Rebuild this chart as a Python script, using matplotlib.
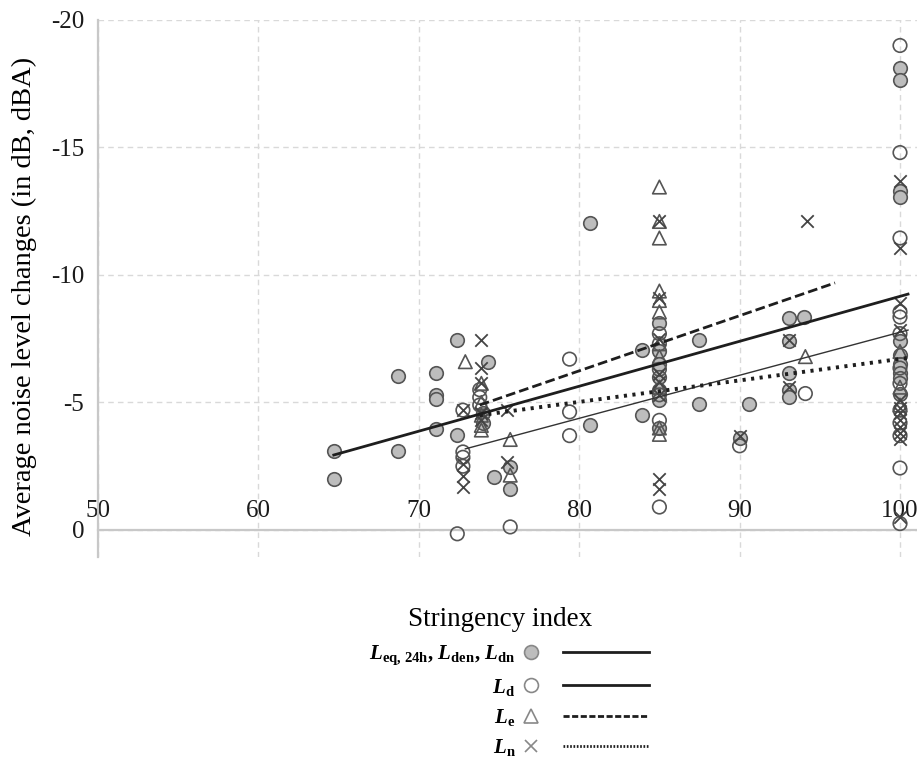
import matplotlib
matplotlib.use('Agg')
import matplotlib.pyplot as plt
from matplotlib.lines import Line2D
from matplotlib.legend_handler import HandlerBase

plt.rcParams['font.family'] = ['Liberation Serif', 'DejaVu Serif']
plt.rcParams['axes.unicode_minus'] = False
plt.rcParams['mathtext.fontset'] = 'custom'
plt.rcParams['mathtext.rm'] = 'Liberation Serif'
plt.rcParams['mathtext.it'] = 'Liberation Serif:italic'
plt.rcParams['mathtext.bf'] = 'Liberation Serif:bold'
plt.rcParams['mathtext.bfit'] = 'Liberation Serif:italic:bold'

# Leq,24h / Lden / Ldn (filled circles)
eq_x = [64.7, 64.7, 68.7, 68.7, 71.1, 71.1, 71.1, 71.1, 72.4, 72.4, 74.0, 74.0, 74.3, 74.7,
        75.7, 75.7, 80.7, 80.7, 83.9, 83.9, 85, 85, 85, 85, 85, 85, 85, 87.5, 87.5, 90.0, 90.6,
        93.1, 93.1, 93.1, 93.1, 93.1, 94.0, 100, 100, 100, 100, 100, 100, 100, 100, 100, 100]
eq_y = [-3.1, -2.0, -6.05, -3.1, -6.15, -5.3, -5.15, -3.96, -7.45, -3.73, -4.6, -4.2, -6.6, -2.08,
        -2.45, -1.6, -12.05, -4.1, -7.05, -4.5, -8.1, -7.0, -6.5, -6.0, -5.5, -5.1, -4.0, -7.45, -4.95,
        -3.6, -4.95, -8.3, -7.4, -6.15, -5.5, -5.2, -8.35, -18.1, -17.65, -13.3, -13.05, -7.4, -6.85,
        -6.5, -6.15, -5.95, -5.35]

# Ld (open circles)
d_x = [72.4, 72.75, 72.75, 72.75, 72.75, 73.8, 73.8, 73.8, 75.7, 79.4, 79.4, 79.4,
       85, 85, 85, 85, 85, 85, 90.0, 94.1,
       100, 100, 100, 100, 100, 100, 100, 100, 100, 100, 100, 100, 100]
d_y = [0.15, -4.7, -3.06, -2.85, -2.5, -5.5, -5.2, -4.9, -0.12, -6.7, -4.63, -3.7,
       -7.7, -7.3, -6.3, -5.3, -4.3, -0.9, -3.3, -5.35,
       -19.0, -14.8, -11.45, -8.55, -8.35, -7.7, -6.35, -5.75, -4.7, -4.2, -3.7, -2.43, -0.25]

# Le (triangles)
e_x = [72.9, 73.9, 73.9, 73.9, 73.9, 73.9, 75.7, 75.7,
       85, 85, 85, 85, 85, 85, 85, 85, 85, 85, 85, 94.1, 100, 100, 100]
e_y = [-6.6, -5.75, -5.0, -4.5, -4.1, -3.92, -3.55, -2.15,
       -13.45, -12.1, -11.45, -9.37, -9.0, -8.55, -7.3, -6.8, -5.6, -4.0, -3.75, -6.8, -7.0, -5.6, -4.9]

# Ln (crosses)
n_x = [72.75, 72.75, 72.75, 72.75, 73.9, 73.9, 73.9, 73.9, 73.9, 75.5, 75.5,
       85, 85, 85, 85, 85, 85, 85, 85, 90.0, 93.1, 93.1, 94.2,
       100, 100, 100, 100, 100, 100, 100, 100, 100, 100, 100, 100]
n_y = [-4.7, -2.6, -2.1, -1.7, -7.45, -6.35, -5.75, -4.6, -4.3, -4.7, -2.65,
       -12.1, -9.1, -7.5, -6.1, -5.8, -5.3, -2.0, -1.6, -3.7, -7.45, -5.6, -12.1,
       -13.7, -11.05, -8.9, -7.85, -5.1, -4.8, -4.6, -4.3, -4.05, -3.8, -3.55, -0.5]

# trend lines: start and end points
eq_line_x, eq_line_y = [64.7, 100.5], [-2.94, -9.25]
d_line_x, d_line_y = [72.9, 100.5], [-3.18, -7.84]
e_line_x, e_line_y = [73.8, 95.95], [-4.9, -9.69]
n_line_x, n_line_y = [73.8, 100.5], [-4.5, -6.75]

xticks = [50, 60, 70, 80, 90, 100]
yticks = [-20, -15, -10, -5, 0]


class MarkerLineHandler(HandlerBase):
    # marker on the left, line on the right
    def create_artists(self, legend, orig_handle, xdescent, ydescent, width, height, fontsize, trans):
        mk, ln = orig_handle
        x0 = -xdescent
        y = height / 2 - ydescent
        m = Line2D([x0 + 0.06 * width], [y])
        m.update_from(mk)
        m.set_transform(trans)
        l = Line2D([x0 + 0.31 * width, x0 + width], [y, y])
        l.update_from(ln)
        l.set_transform(trans)
        return [m, l]


fig = plt.figure(figsize=(9.17, 7.59), dpi=100)
ax = fig.add_axes([98 / 917, 1 - 557 / 759, 1 - 98 / 917, (557 - 20) / 759])

edge = '#555555'
ax.scatter(eq_x, eq_y, s=95, facecolor='#bdbdbd', edgecolor=edge, linewidth=1.2, zorder=3)
ax.scatter(d_x, d_y, s=95, facecolor='none', edgecolor=edge, linewidth=1.2, zorder=3)
ax.scatter(e_x, e_y, s=95, marker='^', facecolor='none', edgecolor=edge, linewidth=1.2, zorder=3)
ax.scatter(n_x, n_y, s=80, marker='x', color='#444444', linewidth=1.3, zorder=3)

ax.plot(eq_line_x, eq_line_y, color='#1e1e1e', lw=2.0, zorder=4)
ax.plot(d_line_x, d_line_y, color='#333333', lw=1.0, zorder=4)
ax.plot(e_line_x, e_line_y, color='#1e1e1e', lw=2.0, dashes=(3.5, 1.5), zorder=4)
ax.plot(n_line_x, n_line_y, color='#1e1e1e', lw=2.8, linestyle=(0, (0.8, 1.4)), zorder=4)

ax.set_xlim(50, 101.06)
ax.set_ylim(1.06, -20)
ax.set_xticks(xticks)
ax.set_yticks(yticks)
ax.set_yticklabels([str(v) for v in yticks])

# horizontal axis crosses at 0, labels above it
ax.xaxis.tick_top()
ax.spines['top'].set_position(('data', 0))
ax.spines['bottom'].set_visible(False)
ax.spines['right'].set_visible(False)
for side in ['top', 'left']:
    ax.spines[side].set_color('#c8c8c8')
    ax.spines[side].set_linewidth(1.6)
ax.tick_params(axis='both', length=0, labelsize=18, colors='#1a1a1a')
ax.tick_params(axis='x', pad=6)
ax.tick_params(axis='y', pad=10)
ax.grid(True, color='#d9d9d9', lw=1.0, linestyle=(0, (4, 3)))
ax.set_axisbelow(True)

ax.set_ylabel('Average noise level changes (in dB, dBA)', fontsize=20.5)
ax.yaxis.set_label_coords(-0.075, 0.485)
fig.text(500 / 917, 1 - 620 / 759, 'Stringency index', fontsize=19.5, ha='center', va='center')

# legend: label, marker, line
mk_eq = Line2D([], [], linestyle='none', marker='o', markersize=10, markerfacecolor='#bdbdbd',
               markeredgecolor='#888888', markeredgewidth=1.2)
mk_d = Line2D([], [], linestyle='none', marker='o', markersize=10, markerfacecolor='none',
              markeredgecolor='#888888', markeredgewidth=1.2)
mk_e = Line2D([], [], linestyle='none', marker='^', markersize=10, markerfacecolor='none',
              markeredgecolor='#888888', markeredgewidth=1.2)
mk_n = Line2D([], [], linestyle='none', marker='x', markersize=9, markeredgecolor='#888888',
              markeredgewidth=1.2)
ln_eq = Line2D([], [], color='#1e1e1e', lw=2.0)
ln_d = Line2D([], [], color='#1e1e1e', lw=2.0)
ln_e = Line2D([], [], color='#1e1e1e', lw=2.0, dashes=(2.2, 0.9))
ln_n = Line2D([], [], color='#1e1e1e', lw=2.0, linestyle=(0, (0.6, 0.6)))

labels = [r'$\mathbfit{L}_{\mathbf{eq,\,24h}}$, $\mathbfit{L}_{\mathbf{den}}$, $\mathbfit{L}_{\mathbf{dn}}$',
          r'$\mathbfit{L}_{\mathbf{d}}$',
          r'$\mathbfit{L}_{\mathbf{e}}$',
          r'$\mathbfit{L}_{\mathbf{n}}$']
fig.legend([(mk_eq, ln_eq), (mk_d, ln_d), (mk_e, ln_e), (mk_n, ln_n)], labels,
           handler_map={tuple: MarkerLineHandler()}, markerfirst=False, frameon=False,
           loc='center', bbox_to_anchor=(509 / 917, 1 - 701 / 759),
           prop={'family': 'Liberation Serif', 'weight': 'bold', 'size': 15},
           handlelength=6.0, handletextpad=0.4, labelspacing=0.45)

plt.savefig('out.png', dpi=100)
